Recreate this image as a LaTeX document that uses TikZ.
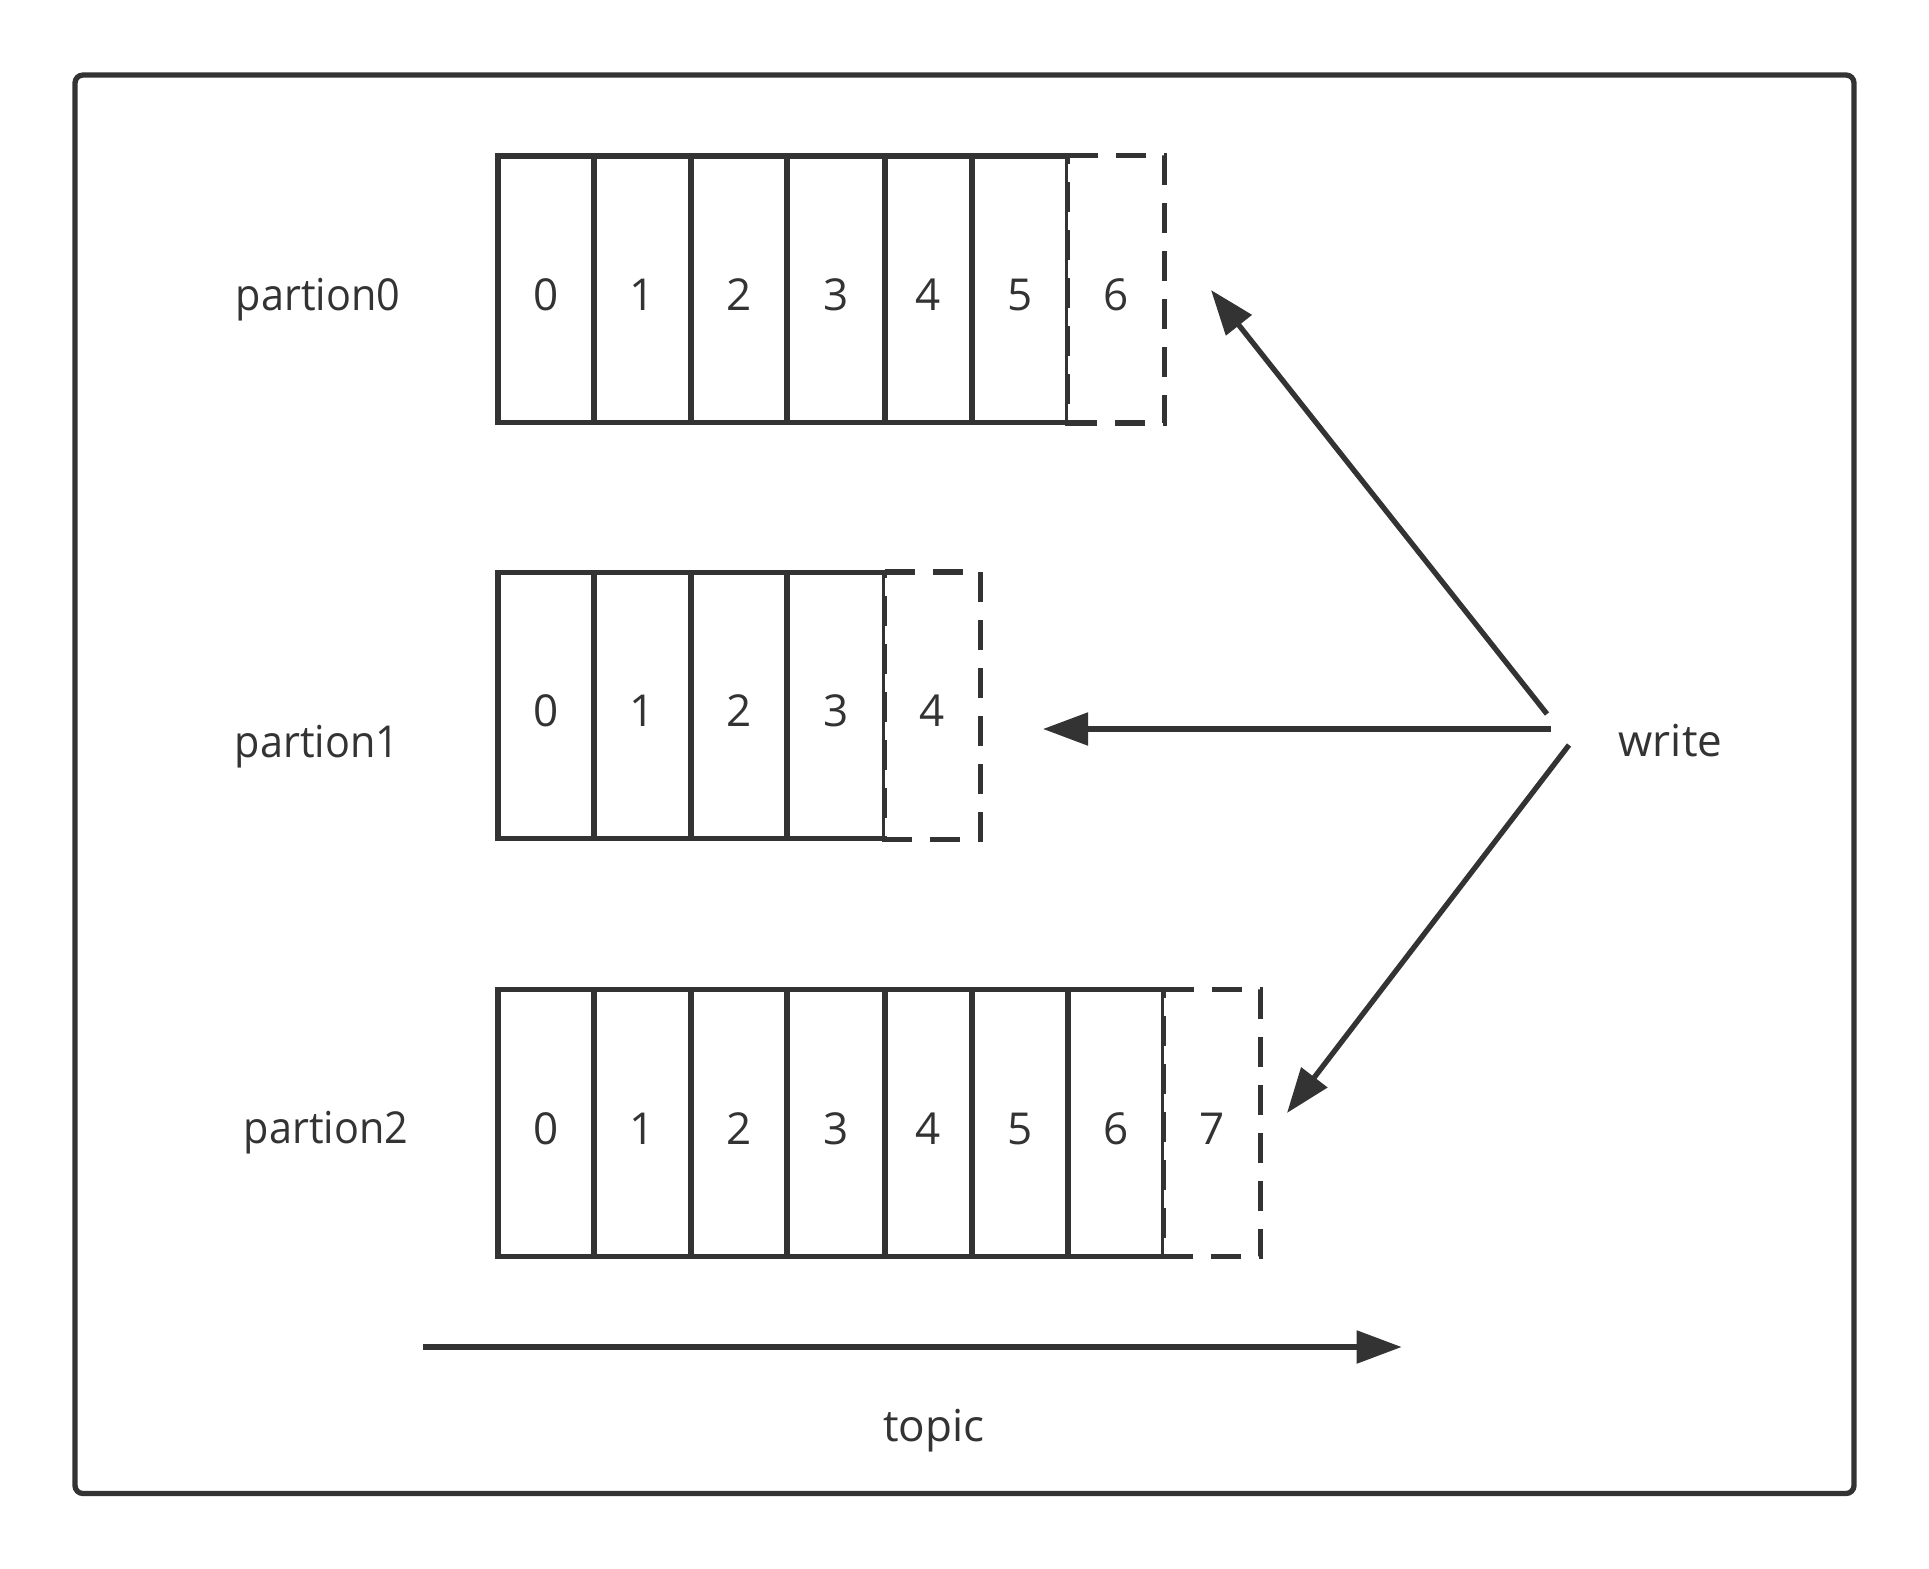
\documentclass[tikz,border=0pt]{standalone}
\usepackage{fontspec}
\setmainfont{Open Sans}
\usetikzlibrary{arrows.meta}
\definecolor{ink}{HTML}{333333}
\tikzset{
  cellbox/.style={draw=ink, line width=2.65pt, minimum height=133.25pt, inner sep=0pt,
    text height=21pt, text depth=0pt, text=ink, font=\fontsize{22pt}{26pt}\selectfont},
  newcell/.style={fill=white, minimum height=133.25pt, inner sep=0pt,
    text height=21pt, text depth=0pt, text=ink, font=\fontsize{22pt}{26pt}\selectfont},
  dashline/.style={draw=ink, line width=2.65pt, dash pattern=on 15pt off 9pt},
  lbl/.style={anchor=base, inner sep=0pt, text=ink, font=\fontsize{22pt}{26pt}\selectfont},
  conn/.style={draw=ink, line width=2.65pt, -{Triangle[length=22.5pt,width=16pt]}},
}
\begin{document}
\begin{tikzpicture}[x=0.5pt,y=-0.5pt]
\useasboundingbox (0,0) rectangle (1929,1569);
% frame
\draw[ink, line width=2.65pt, rounded corners=4pt] (75,75) rectangle (1854,1493.5);

% row 0
\node[cellbox, minimum width=48pt]   (r0c0) at (546,289.3) {0};
\node[cellbox, minimum width=48.5pt] (r0c1) at (642.5,289.3) {1};
\node[cellbox, minimum width=48pt]   (r0c2) at (739,289.3) {2};
\node[cellbox, minimum width=49pt]   (r0c3) at (836,289.3) {3};
\node[cellbox, minimum width=43.5pt] (r0c4) at (928.5,289.3) {4};
\node[cellbox, minimum width=48pt]   (r0c5) at (1020,289.3) {5};
\node[newcell, minimum width=48pt]   (r0c6) at (1116,289.3) {6};
\draw[dashline] (r0c6.north west) -- (r0c6.north east) -- (r0c6.south east) -- (r0c6.south west) -- cycle;

% row 1
\node[cellbox, minimum width=48pt]   (r1c0) at (546,705.5) {0};
\node[cellbox, minimum width=48.5pt] (r1c1) at (642.5,705.5) {1};
\node[cellbox, minimum width=48pt]   (r1c2) at (739,705.5) {2};
\node[cellbox, minimum width=49pt]   (r1c3) at (836,705.5) {3};
\node[newcell, minimum width=47.5pt] (r1c4) at (932.5,705.5) {4};
\draw[dashline] (r1c4.north west) -- (r1c4.north east) -- (r1c4.south east) -- (r1c4.south west) -- cycle;

% row 2
\node[cellbox, minimum width=48pt]   (r2c0) at (546,1123) {0};
\node[cellbox, minimum width=48.5pt] (r2c1) at (642.5,1123) {1};
\node[cellbox, minimum width=48pt]   (r2c2) at (739,1123) {2};
\node[cellbox, minimum width=49pt]   (r2c3) at (836,1123) {3};
\node[cellbox, minimum width=43.5pt] (r2c4) at (928.5,1123) {4};
\node[cellbox, minimum width=48pt]   (r2c5) at (1020,1123) {5};
\node[cellbox, minimum width=48pt]   (r2c6) at (1116,1123) {6};
\node[newcell, minimum width=48pt]   (r2c7) at (1212,1123) {7};
\draw[dashline] (r2c7.north west) -- (r2c7.north east) -- (r2c7.south east) -- (r2c7.south west) -- cycle;

% labels
\node[lbl] (p0) at (318,310.5) {\scalebox{0.94}[1]{partion0}};
\node[lbl] (p1) at (317,757) {\scalebox{0.94}[1]{partion1}};
\node[lbl] (p2) at (326,1143.5) {\scalebox{0.94}[1]{partion2}};
\node[lbl] (write) at (1670.5,756.7) {write};
\node[lbl] (topic) at (934,1441.7) {topic};

% connector end points
\coordinate (w0) at (1547,714);
\coordinate (t0) at (1211,290);
\coordinate (w1) at (1551,729);
\coordinate (t1) at (1043,729);
\coordinate (w2) at (1569,745);
\coordinate (t2) at (1287,1113);
\coordinate (ts) at (423,1347);
\coordinate (te) at (1401.7,1347);

\draw[conn] (w0) -- (t0);
\draw[conn] (w1) -- (t1);
\draw[conn] (w2) -- (t2);
\draw[conn] (ts) -- (te);
\end{tikzpicture}
\end{document}
